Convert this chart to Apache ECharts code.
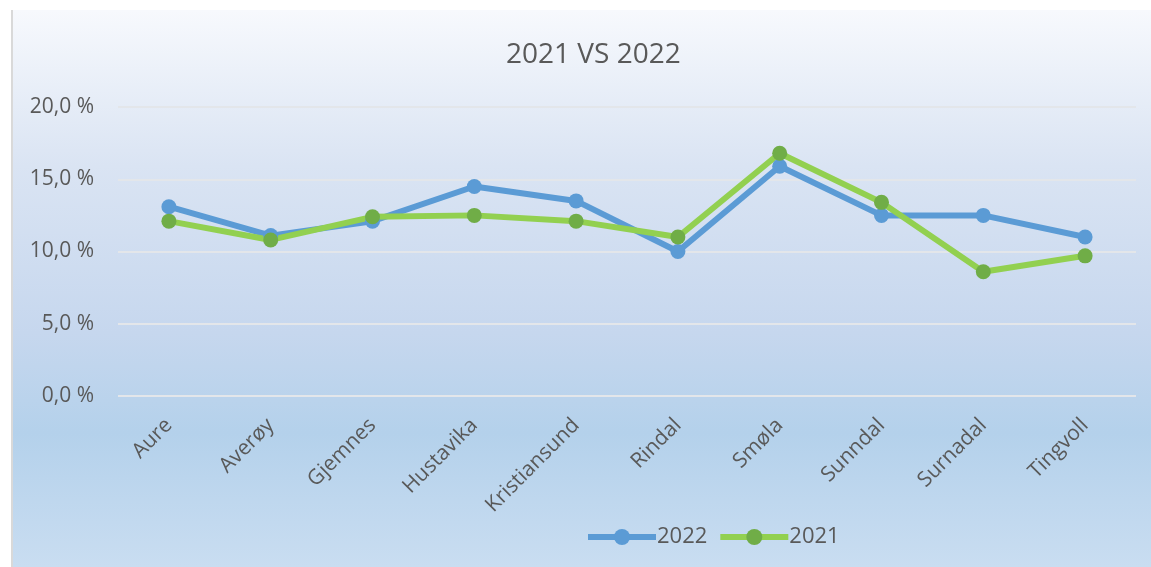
<!DOCTYPE html>
<html>
<head>
<meta charset="utf-8">
<script src="https://cdn.jsdelivr.net/npm/echarts@6/dist/echarts.min.js"></script>
<style>
  html, body { margin: 0; padding: 0; background: #ffffff; }
  #frame {
    position: absolute; left: 11px; top: 10px; width: 1140px; height: 557px;
    border-left: 2px solid #d9d9d9;
    background: linear-gradient(to bottom, #f7f9fd 0%, #dae4f3 28%, #c6d7ee 58%, #b4d1eb 76%, #c9ddf1 100%);
  }
  #chart { position: absolute; left: 0; top: 0; width: 1151px; height: 567px; }
</style>
</head>
<body>
<div id="frame"></div>
<div id="chart"></div>
<script>
// kommuner
const categories = ['Aure', 'Averøy', 'Gjemnes', 'Hustavika', 'Kristiansund', 'Rindal', 'Smøla', 'Sunndal', 'Surnadal', 'Tingvoll'];
// andel i prosent
const values2022 = [13.1, 11.1, 12.1, 14.5, 13.5, 10.0, 15.9, 12.5, 12.5, 11.0];
const values2021 = [12.1, 10.8, 12.4, 12.5, 12.1, 11.0, 16.8, 13.4, 8.6, 9.7];
const yTicks = [0, 5, 20];

const fontFamily = 'Open Sans, Noto Sans, sans-serif';
const txt = '#595959';

const myChart = echarts.init(document.getElementById('chart'));
const option = {
  backgroundColor: 'transparent',
  animation: false,
  title: {
    text: '2021 VS 2022',
    left: 501,
    top: 36,
    textStyle: { color: txt, fontSize: 28, fontWeight: 'normal', fontFamily: fontFamily }
  },
  legend: {
    bottom: 14,
    left: 580,
    itemWidth: 68,
    itemHeight: 20,
    itemGap: 10,
    lineStyle: { width: 6 },
    textStyle: { color: txt, fontSize: 22, fontFamily: fontFamily, padding: [0, 0, 0, -4] },
    data: ['2022', '2021']
  },
  grid: {
    left: 118,
    right: 15,
    top: 107,
    bottom: 171
  },
  xAxis: {
    type: 'category',
    data: categories,
    axisLine: { show: false },
    axisTick: { show: false },
    axisLabel: {
      rotate: 45,
      margin: 26,
      color: txt,
      fontSize: 21,
      fontFamily: fontFamily
    }
  },
  yAxis: {
    type: 'value',
    min: yTicks[0],
    max: yTicks[2],
    interval: yTicks[1],
    axisLabel: {
      margin: 24,
      color: txt,
      fontSize: 21,
      fontFamily: fontFamily,
      formatter: v => v.toFixed(1).replace('.', ',') + ' %'
    },
    splitLine: { lineStyle: { color: '#e3e6ea', width: 2 } }
  },
  series: [
    {
      name: '2022',
      type: 'line',
      data: values2022,
      symbol: 'circle',
      symbolSize: 15,
      lineStyle: { color: '#5b9bd5', width: 6 },
      itemStyle: { color: '#5b9bd5' }
    },
    {
      name: '2021',
      type: 'line',
      data: values2021,
      symbol: 'circle',
      symbolSize: 15,
      lineStyle: { color: '#92d050', width: 6 },
      itemStyle: { color: '#70ad47' }
    }
  ]
};
myChart.setOption(option);
</script>
</body>
</html>
